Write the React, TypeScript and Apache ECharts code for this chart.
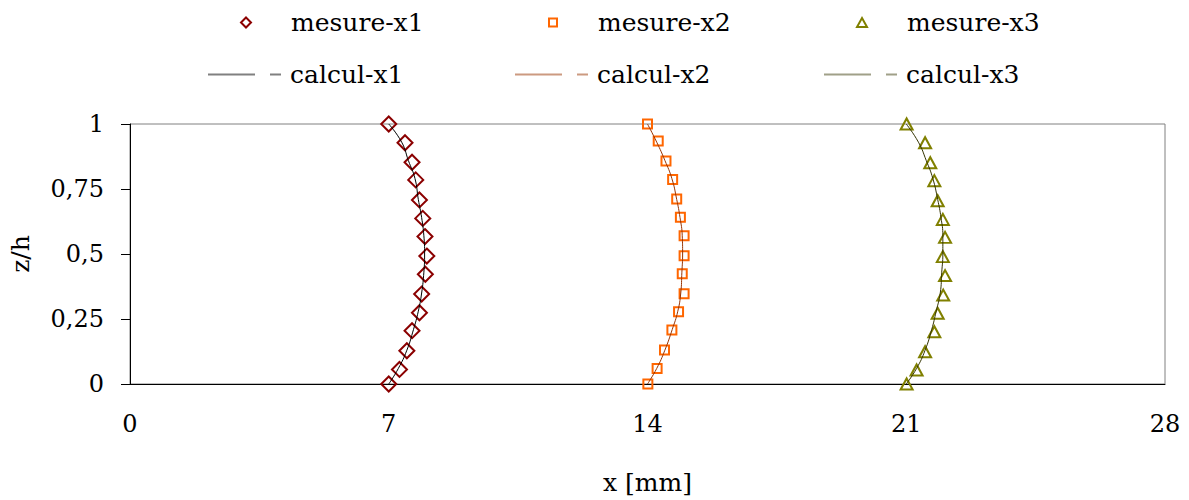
import React, { useEffect, useRef } from "react";
import * as echarts from "echarts";

// ---- measured points (x in mm, z/h) ----
const mesureX1 = [7.0, 7.44, 7.63, 7.73, 7.83, 7.92, 7.98, 8.03, 7.99, 7.89, 7.83, 7.63, 7.49, 7.29, 7.0];
const mesureZ1 = [1, 0.928, 0.853, 0.785, 0.708, 0.637, 0.567, 0.492, 0.422, 0.346, 0.274, 0.205, 0.128, 0.056, 0];

const mesureX2 = [14.0, 14.29, 14.5, 14.68, 14.79, 14.89, 14.99, 14.99, 14.94, 14.99, 14.84, 14.66, 14.46, 14.26, 14.01];
const mesureZ2 = [1, 0.935, 0.858, 0.787, 0.712, 0.641, 0.57, 0.493, 0.424, 0.347, 0.278, 0.208, 0.131, 0.06, 0];

const mesureX3 = [21.01, 21.51, 21.65, 21.76, 21.85, 21.99, 22.05, 21.99, 22.05, 22.0, 21.85, 21.76, 21.51, 21.28, 21.01];
const mesureZ3 = [1, 0.928, 0.851, 0.782, 0.705, 0.633, 0.564, 0.49, 0.417, 0.342, 0.272, 0.201, 0.124, 0.054, 0];

// ---- computed curves ----
const calcZ = [1, 0.93, 0.86, 0.79, 0.71, 0.64, 0.57, 0.5, 0.43, 0.35, 0.28, 0.21, 0.13, 0.06, 0];
const calcX1 = [7.0, 7.35, 7.53, 7.71, 7.8, 7.89, 7.95, 7.97, 7.95, 7.89, 7.8, 7.67, 7.49, 7.26, 7.0];
const calcX2 = [14.0, 14.25, 14.47, 14.66, 14.79, 14.88, 14.94, 14.95, 14.93, 14.9, 14.82, 14.67, 14.47, 14.25, 14.0];
const calcX3 = [21.0, 21.33, 21.54, 21.72, 21.85, 21.94, 21.99, 21.99, 21.96, 21.92, 21.81, 21.69, 21.51, 21.28, 21.0];

// ---- axis ticks ----
const xTicks = [0, 7, 14, 21, 28];
const yTicks = [0, 0.25, 0.5, 0.75, 1];

const seriesNames = ["mesure-x1", "mesure-x2", "mesure-x3", "calcul-x1", "calcul-x2", "calcul-x3"];

const FONT = "'DejaVu Serif', 'Liberation Serif', serif";

function pairs(xs: number[], zs: number[]) {
  return xs.map((x, i) => [x, zs[i]]);
}

const LINE_ICON = "path://M0,0H47V2H0Z M62,0H73V2H62Z";

export default function App() {
  const ref = useRef<HTMLDivElement>(null);
  useEffect(() => {
    document.body.style.margin = "0";
    const chart = echarts.init(ref.current!, null, { renderer: "svg" });

    const markerColors = ["#8B0000", "#FF6600", "#808000"];
    const markerSymbols = ["diamond", "rect", "triangle"];
    const markerSizes: any[] = [15, 9, [12, 11]];
    const legendMarkerSizes = [[10, 10], [8, 8], [10, 9]];
    const lineColors = ["#000000", "#993300", "#333300"];
    const legendLineColors = ["#808080", "#cc9a80", "#a0a088"];

    const mesureData = [
      pairs(mesureX1, mesureZ1),
      pairs(mesureX2, mesureZ2),
      pairs(mesureX3, mesureZ3),
    ];
    const calcData = [pairs(calcX1, calcZ), pairs(calcX2, calcZ), pairs(calcX3, calcZ)];

    const row1Left = [240, 548, 856];
    const row1Pad = [35, 36, 35];
    const row2Left = [208, 515, 824];

    const legends: any[] = [];
    for (let i = 0; i < 3; i++) {
      legends.push({
        left: row1Left[i],
        top: 10,
        padding: 0,
        itemWidth: legendMarkerSizes[i][0],
        itemHeight: legendMarkerSizes[i][1],
        data: [
          {
            name: seriesNames[i],
            icon: markerSymbols[i],
            itemStyle: { color: "rgba(255,255,255,0)", borderColor: markerColors[i], borderWidth: 2 },
          },
        ],
        textStyle: { fontFamily: FONT, fontSize: 25, color: "#000", padding: [0, 0, 0, row1Pad[i]] },
      });
    }
    for (let i = 0; i < 3; i++) {
      legends.push({
        left: row2Left[i],
        top: 62,
        padding: 0,
        itemWidth: 73,
        itemHeight: 2,
        data: [
          {
            name: seriesNames[3 + i],
            icon: LINE_ICON,
            itemStyle: { color: legendLineColors[i], borderWidth: 0 },
          },
        ],
        textStyle: { fontFamily: FONT, fontSize: 25, color: "#000", padding: [0, 0, 0, 4] },
      });
    }

    const series: any[] = [];
    for (let i = 0; i < 3; i++) {
      series.push({
        name: seriesNames[i],
        type: "scatter",
        data: mesureData[i],
        symbol: markerSymbols[i],
        symbolSize: markerSizes[i],
        itemStyle: { color: "rgba(255,255,255,0)", borderColor: markerColors[i], borderWidth: 2, opacity: 1 },
        z: 2,
      });
    }
    for (let i = 0; i < 3; i++) {
      series.push({
        name: seriesNames[3 + i],
        type: "line",
        data: calcData[i],
        smooth: true,
        showSymbol: false,
        symbol: "none",
        lineStyle: { color: lineColors[i], width: 1 },
        itemStyle: { color: lineColors[i] },
        z: 3,
      });
    }

    chart.setOption({
      animation: false,
      backgroundColor: "#fff",
      textStyle: { fontFamily: FONT },
      grid: {
        left: 130,
        right: 24,
        top: 124,
        bottom: 116,
        show: true,
        borderColor: "#808080",
        borderWidth: 1,
        containLabel: false,
      },
      legend: legends,
      xAxis: {
        type: "value",
        min: xTicks[0],
        max: xTicks[xTicks.length - 1],
        interval: xTicks[1] - xTicks[0],
        name: "x [mm]",
        nameLocation: "middle",
        nameGap: 86,
        nameTextStyle: { fontFamily: FONT, fontSize: 25, color: "#000" },
        axisLine: { show: true, lineStyle: { color: "#000", width: 1 } },
        axisTick: { show: false },
        splitLine: { show: false },
        axisLabel: { fontFamily: FONT, fontSize: 24, color: "#000", margin: 28 },
      },
      yAxis: {
        type: "value",
        min: yTicks[0],
        max: yTicks[yTicks.length - 1],
        interval: yTicks[1] - yTicks[0],
        name: "z/h",
        nameLocation: "middle",
        nameGap: 97,
        nameTextStyle: { fontFamily: FONT, fontSize: 25, color: "#000" },
        axisLine: { show: true, lineStyle: { color: "#000", width: 1 } },
        axisTick: { show: true, inside: false, length: 9, lineStyle: { color: "#000" } },
        splitLine: { show: false },
        axisLabel: {
          fontFamily: FONT,
          fontSize: 24,
          color: "#000",
          margin: 26,
          padding: [6, 0, 0, 0],
          formatter: (v: number) => String(v).replace(".", ","),
        },
      },
      series,
    });

    return () => chart.dispose();
  }, []);
  return <div ref={ref} style={{ width: 1189, height: 500 }} />;
}
